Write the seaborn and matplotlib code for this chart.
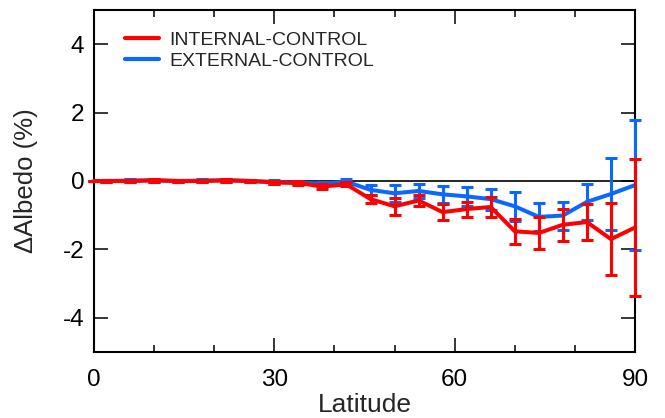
import matplotlib
matplotlib.use("Agg")
import matplotlib.pyplot as plt
import seaborn as sns
import pandas as pd
import numpy as np
from matplotlib.ticker import MultipleLocator

# ---- data ----
latitude = [0, 2, 6, 10, 14, 18, 22, 26, 30, 34, 38, 42, 46, 50, 54, 58, 62, 66, 70, 74, 78, 82, 86, 90]

internal_mean = [0.0, 0.0, 0.0, 0.02, 0.0, 0.0, 0.02, 0.0, -0.04, -0.06, -0.16, -0.10,
                 -0.53, -0.74, -0.57, -0.91, -0.82, -0.76, -1.47, -1.52, -1.28, -1.20, -1.70, -1.36]
internal_err = [0.0, 0.04, 0.04, 0.04, 0.04, 0.04, 0.04, 0.04, 0.05, 0.05, 0.06, 0.06,
                0.12, 0.24, 0.16, 0.24, 0.22, 0.28, 0.36, 0.46, 0.47, 0.53, 1.06, 1.99]

external_mean = [0.0, 0.0, 0.01, 0.02, 0.0, 0.01, 0.02, 0.0, -0.03, -0.05, -0.08, -0.02,
                 -0.26, -0.36, -0.29, -0.39, -0.45, -0.53, -0.74, -1.05, -1.01, -0.61, -0.38, -0.12]
external_err = [0.0, 0.04, 0.04, 0.04, 0.04, 0.04, 0.04, 0.04, 0.05, 0.05, 0.06, 0.07,
                0.14, 0.24, 0.20, 0.25, 0.28, 0.31, 0.42, 0.40, 0.41, 0.52, 1.04, 1.91]

series_names = ["INTERNAL-CONTROL", "EXTERNAL-CONTROL"]
series_colors = ["#FF0000", "#0A68FF"]

x_ticks = [0, 30, 60, 90]
y_ticks = [-4, -2, 0, 2, 4]

df_int = pd.DataFrame({"lat": latitude, "val": internal_mean, "err": internal_err})
df_ext = pd.DataFrame({"lat": latitude, "val": external_mean, "err": external_err})

# ---- style ----
sns.set_style("ticks")
plt.rcParams["font.family"] = ["Liberation Sans", "DejaVu Sans"]

fig = plt.figure(figsize=(6.65, 4.18), dpi=100)
ax = fig.add_axes([94 / 665, 1 - 352 / 418, (635 - 94) / 665, (352 - 10) / 418])

ax.axhline(0, color="black", lw=1.2, zorder=1)

for df, name, col in [(df_ext, series_names[1], series_colors[1]),
                      (df_int, series_names[0], series_colors[0])]:
    sns.lineplot(data=df, x="lat", y="val", color=col, lw=2.9, ax=ax,
                 zorder=3, clip_on=False, label=name)
    ax.errorbar(df["lat"], df["val"], yerr=df["err"], fmt="none", ecolor=col,
                elinewidth=2.2, capsize=4.5, capthick=2.2, zorder=3, clip_on=False)

h, l = ax.get_legend_handles_labels()
order = [l.index(series_names[0]), l.index(series_names[1])]
leg = ax.legend([h[i] for i in order], [l[i] for i in order],
                loc="upper left", bbox_to_anchor=(0.057, 0.938), frameon=False,
                borderaxespad=0, borderpad=0, fontsize=14.0, handlelength=1.75,
                handletextpad=0.55, labelspacing=0.17)
for lh in leg.get_lines():
    lh.set_linewidth(3)

ax.set_xlim(0, 90)
ax.set_ylim(-5, 5)
ax.set_xticks(x_ticks)
ax.set_yticks(y_ticks)
ax.set_xticklabels([str(v) for v in x_ticks])
ax.set_yticklabels([str(v) for v in y_ticks])
ax.xaxis.set_minor_locator(MultipleLocator(10))

ax.tick_params(which="both", direction="in", top=True, right=True, width=1.1, colors="black")
ax.tick_params(which="major", length=10, labelsize=17.5)
ax.tick_params(which="minor", length=5)
ax.tick_params(axis="x", which="major", pad=12)
ax.tick_params(axis="y", which="major", pad=7)

for s in ax.spines.values():
    s.set_linewidth(1.5)
    s.set_color("black")

ax.set_xlabel("Latitude", fontsize=19)
ax.set_ylabel("ΔAlbedo (%)", fontsize=18.5)
ax.xaxis.set_label_coords(0.5, -0.12)
ax.yaxis.set_label_coords(-0.104, 0.5)

fig.savefig("out.png", dpi=100)
